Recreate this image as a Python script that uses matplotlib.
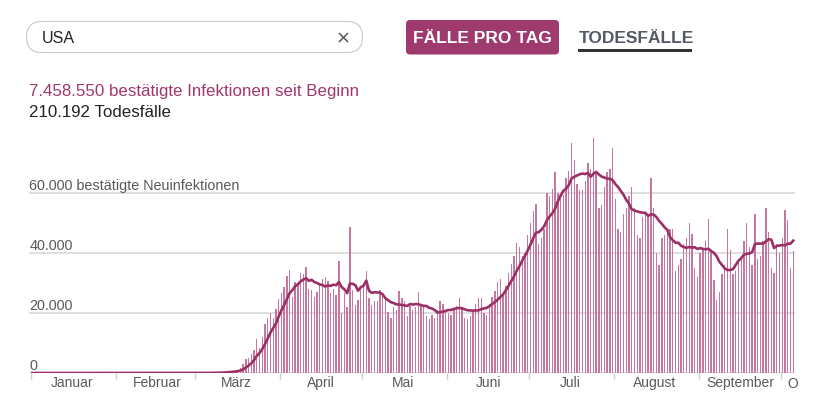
import pandas as pd
import matplotlib
matplotlib.use('Agg')
import matplotlib.pyplot as plt
import matplotlib.dates as mdates
from matplotlib.ticker import FuncFormatter, NullFormatter
from matplotlib.patches import FancyBboxPatch, Rectangle

plt.rcParams['font.family'] = ['Liberation Sans', 'DejaVu Sans']

# tägliche Neuinfektionen USA, 1. Januar bis 5. Oktober 2020
jan = [0, 0, 0, 0, 0, 0, 0, 0, 0, 0,
       0, 0, 0, 0, 0, 0, 0, 0, 0, 0,
       0, 1, 0, 1, 0, 3, 0, 0, 0, 0, 1]
feb = [1, 0, 3, 0, 1, 0, 0, 0, 0, 1,
       0, 0, 1, 0, 0, 0, 0, 0, 0, 0,
       2, 0, 0, 36, 0, 1, 0, 1, 8]
mar = [8, 23, 20, 31, 70, 48, 115,
       114, 171, 292, 272, 448, 598, 732,
       792, 1100, 1800, 2900, 4800, 5100, 6400,
       7800, 11200, 8500, 12000, 16500, 18500, 20000,
       18500, 21400, 24800]
apr = [26800, 28700, 32200, 34200,
       25300, 30300, 29500, 33300, 33000, 35500, 28100,
       27800, 25200, 27100, 30000, 31500, 32100, 30800,
       26600, 27900, 26000, 37300, 20000, 26600, 22000,
       48600, 27700, 22700, 24400, 28200]
mai = [30000, 34000,
       25100, 22700, 24000, 24000, 27700, 26000, 25000,
       20200, 18300, 22000, 21000, 27300, 25000, 24000,
       19000, 22500, 21000, 22000, 27000, 23000, 22000,
       19000, 18000, 19500, 18500, 21000, 24000, 23000,
       21000]
jun = [20000, 19500, 21000, 22500, 25000, 22000,
       18500, 18000, 19000, 20500, 23000, 25000, 25000,
       20000, 19500, 23000, 25500, 27500, 30500, 31500,
       26000, 29000, 33500, 36500, 39000, 43500, 42000,
       39000, 40000, 46000]
jul = [50000, 54000, 56500, 43000,
       45000, 48000, 60000, 59000, 61500, 67000, 60000,
       58000, 59500, 65000, 67500, 76800, 71000, 63000,
       61000, 61000, 64000, 70000, 68000, 78200, 67000,
       55000, 56000, 62000, 67000, 68000, 74900]
aug = [58000,
       48000, 47000, 53000, 55000, 59000, 62000, 55000,
       46000, 45000, 52000, 54000, 53000, 64900, 55000,
       40000, 36000, 45000, 46000, 47000, 48000, 48000,
       34000, 36000, 38000, 43000, 45000, 50000, 46500,
       35000, 32000]
sep = [40000, 41000, 44000, 51500, 41000,
       31000, 24300, 27000, 33000, 36000, 48000, 41000,
       33000, 34000, 37000, 39000, 44000, 50000, 42000,
       36000, 53000, 38000, 39000, 44000, 55000, 47000,
       35000, 33500, 43000, 40000]
okt = [45000, 54300, 51000, 34900, 40700]

monate = ['Januar', 'Februar', 'März', 'April', 'Mai', 'Juni', 'Juli',
          'August', 'September', 'Oktober']
y_werte = [0, 20000, 40000, 60000]

BAR = '#c6769f'
LINE = '#9b2f66'
GRAU = '#5a5a5a'

cases = jan + feb + mar + apr + mai + jun + jul + aug + sep + okt
days = pd.date_range('2020-01-01', periods=len(cases), freq='D')
s = pd.Series(cases, index=days)
avg = s.rolling(7, min_periods=1).mean()

W, H = 820, 399
fig = plt.figure(figsize=(W / 100, H / 100), dpi=100)

# Diagramm
x_left, x_right, y_base, y_top = 29, 794.6, 373, 133
ax = fig.add_axes([x_left / W, (H - y_base) / H,
                   (x_right - x_left) / W, (y_base - y_top) / H])
x = mdates.date2num(days) + 0.5
ax.bar(x, s.values, width=0.5, color=BAR, linewidth=0, zorder=2)
ax.plot(x, avg.values, color=LINE, lw=1.9, zorder=3, solid_joinstyle='round')

t0 = mdates.date2num(pd.Timestamp('2020-01-01'))
ax.set_xlim(t0 - 0.73, t0 + 279)
ax.set_ylim(0, 80000)

for v in y_werte:
    ax.axhline(v, color='#dcdcdc', lw=1.3, zorder=1)
    txt = f'{v:,}'.replace(',', '.')
    if v == 60000:
        txt += ' bestätigte Neuinfektionen'
    ax.annotate(txt, xy=(0, v), xycoords=('axes fraction', 'data'),
                xytext=(0.5, 3), textcoords='offset pixels',
                ha='left', va='baseline', fontsize=10.4, color=GRAU)

for sp in ax.spines.values():
    sp.set_visible(False)
ax.set_yticks([])
ax.xaxis.set_major_locator(mdates.MonthLocator())
ax.xaxis.set_major_formatter(NullFormatter())
ax.xaxis.set_minor_locator(mdates.MonthLocator(bymonthday=16))
ax.xaxis.set_minor_formatter(FuncFormatter(
    lambda v, p: monate[mdates.num2date(v).month - 1]))
ax.tick_params(axis='x', which='major', length=4, width=1, color='#cccccc')
ax.tick_params(axis='x', which='minor', length=0, pad=2, labelsize=10,
               labelcolor=GRAU)

# Kopfbereich in Pixelkoordinaten
ov = fig.add_axes([0, 0, 1, 1], zorder=5)
ov.set_xlim(0, W)
ov.set_ylim(H, 0)
ov.axis('off')

ov.add_patch(FancyBboxPatch((26.5, 21.5), 336, 31,
                            boxstyle='round,pad=0,rounding_size=15.5',
                            fc='white', ec='#c8c8c8', lw=0.8))
ov.text(42, 42.7, 'USA', fontsize=11.5, color='#222222', va='baseline')
ov.plot([339.5, 347.5], [33.5, 41.5], color='#555555', lw=1.1)
ov.plot([339.5, 347.5], [41.5, 33.5], color='#555555', lw=1.1)

ov.add_patch(FancyBboxPatch((406, 20), 153, 34.5,
                            boxstyle='round,pad=0,rounding_size=4',
                            fc='#9e3a6e', ec='none'))
ov.text(482.5, 43.3, 'FÄLLE PRO TAG', fontsize=12.5, fontweight='bold',
        color='white', ha='center', va='baseline')
ov.text(579, 43.3, 'TODESFÄLLE', fontsize=12.5, fontweight='bold',
        color='#555a62', ha='left', va='baseline')
ov.add_patch(Rectangle((578, 48.8), 114, 2.8, fc='#333333', ec='none'))

ov.text(29.3, 95.7, '7.458.550 bestätigte Infektionen seit Beginn',
        fontsize=12.2, color='#a0386f', va='baseline')
ov.text(29.3, 116.7, '210.192 Todesfälle', fontsize=12.2, color='#222222',
        va='baseline')

# vom Oktober ist am rechten Rand nur der Anfangsbuchstabe zu sehen
ov.text(787.7, 388, monate[-1][0], fontsize=10, color=GRAU,
        va='baseline', ha='left')

fig.savefig('out.png', dpi=100)
